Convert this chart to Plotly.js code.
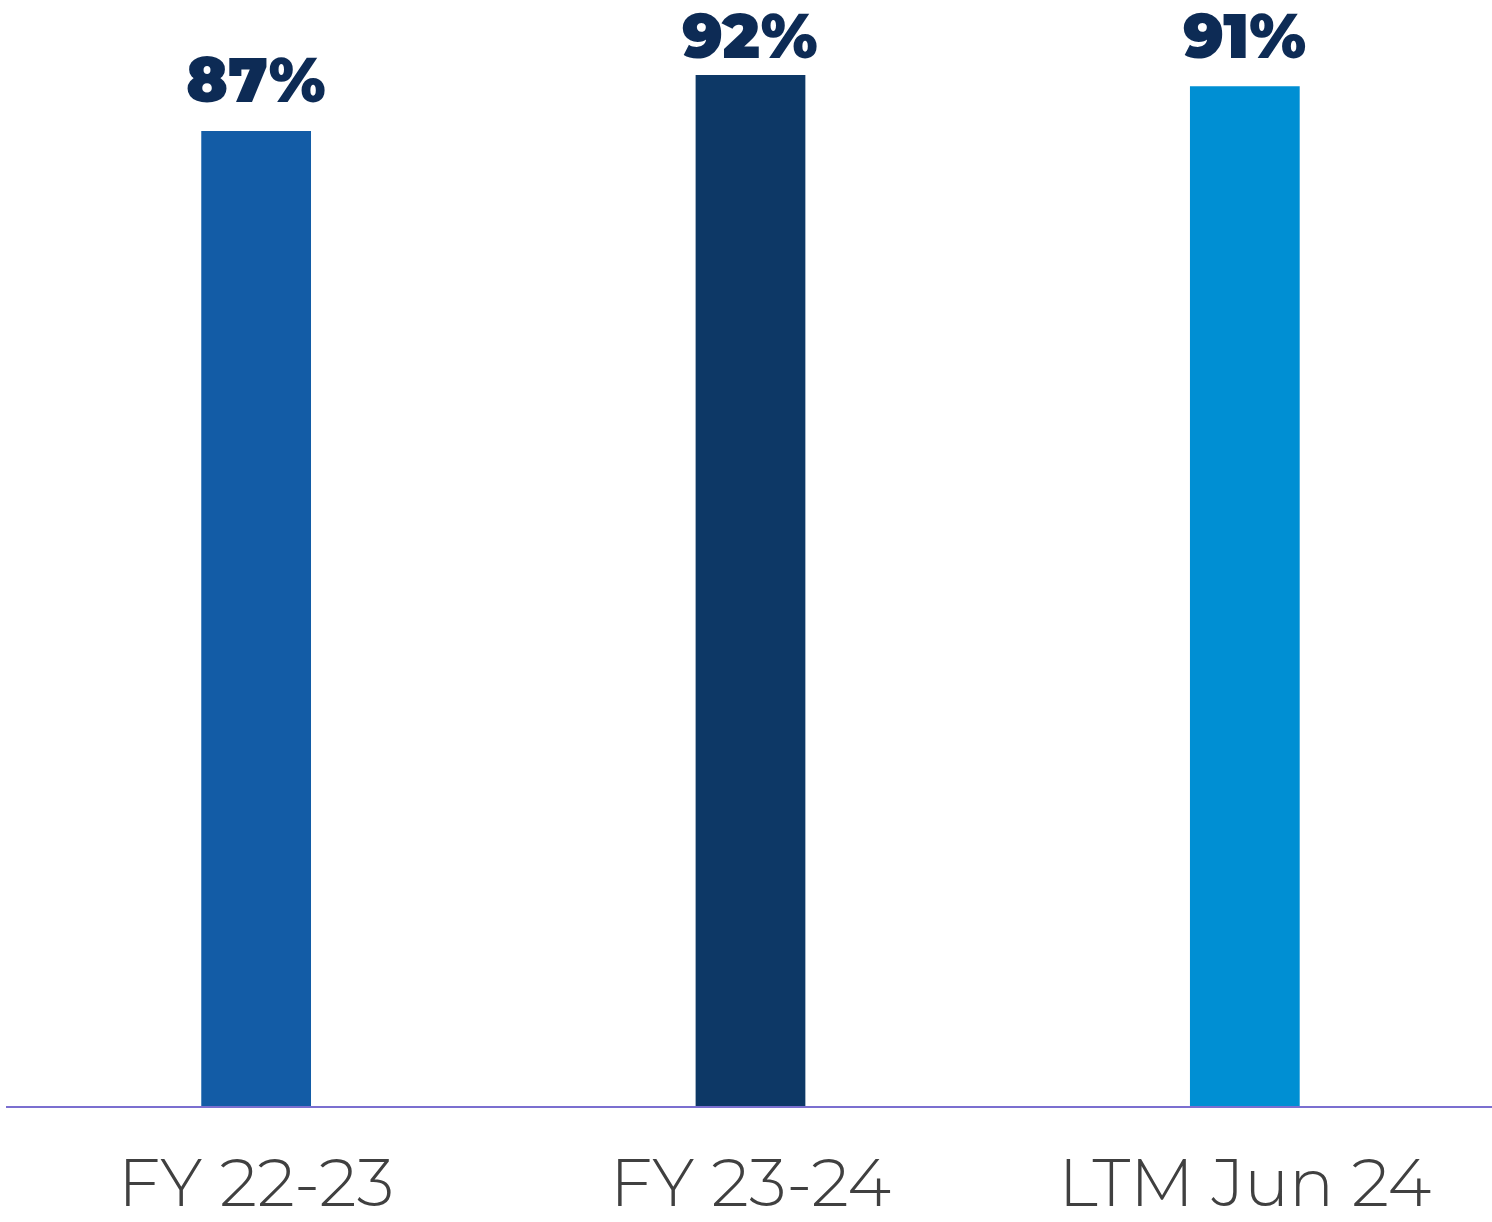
<!DOCTYPE html>
<html>
<head>
<meta charset="utf-8">
<script src="https://cdn.plot.ly/plotly-3.0.1.min.js"></script>
<style>html,body{margin:0;padding:0;background:#fff;}#chart{width:1492px;height:1222px;}</style>
</head>
<body>
<div id="chart"></div>
<script>
const categories = ["FY 22-23", "FY 23-24", "LTM Jun 24"];
const values = [87, 92, 91];
const valueLabels = ["87%", "92%", "91%"];
const barColors = ["#135ca6", "#0d3866", "#008fd3"];

const H = 1222, MB = 116, PLOT_H = H - MB, YMAX = 98.69;
const barTopPx = v => PLOT_H - v / YMAX * PLOT_H;

const trace = {
  type: "bar",
  x: categories,
  y: values,
  marker: {color: barColors},
  hoverinfo: "none",
  cliponaxis: false
};

const annotations = categories.map((c, i) => {
  const top = barTopPx(values[i]);
  const baseline = Math.max(top - 28, 59);
  return {
    x: c, y: values[i], xref: "x", yref: "y",
    text: valueLabels[i], showarrow: false,
    yanchor: "bottom", yshift: top - baseline - 17,
    font: {family: "Montserrat, Lato, 'Open Sans', sans-serif", size: 62, color: "#0d2b55", weight: 900}
  };
});

const layout = {
  width: 1492, height: H,
  margin: {l: 6, r: 0, t: 0, b: MB, pad: 0},
  paper_bgcolor: "#ffffff", plot_bgcolor: "#ffffff",
  showlegend: false,
  bargap: 0.778,
  xaxis: {
    type: "category",
    range: [-0.506, 2.5],
    showline: true, linecolor: "#7b6fd0", linewidth: 2,
    showgrid: false, zeroline: false, ticks: "",
    tickfont: {family: "Montserrat, Lato, 'Open Sans', sans-serif", size: 67, color: "#404040", weight: 300},
    ticklabelstandoff: 18,
    fixedrange: true
  },
  yaxis: {
    range: [0, YMAX],
    visible: false, showgrid: false, zeroline: false, fixedrange: true
  },
  annotations: annotations
};

Plotly.newPlot("chart", [trace], layout, {displayModeBar: false, staticPlot: true});
</script>
</body>
</html>
